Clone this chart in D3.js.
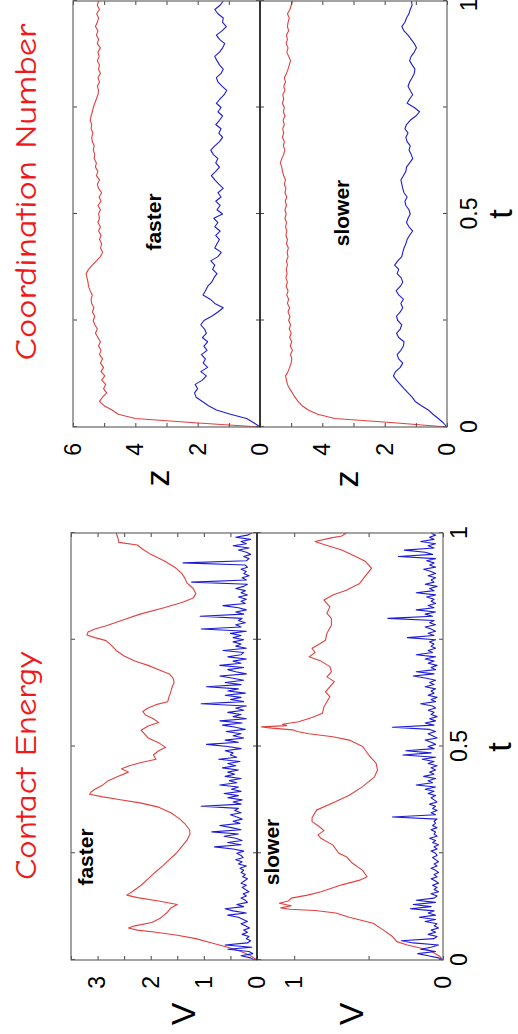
<!DOCTYPE html>
<html>
<head>
<meta charset="utf-8">
<script src="https://cdn.jsdelivr.net/npm/d3@7"></script>
<style>
  body { margin: 0; background: #fff; }
  svg { display: block; }
</style>
</head>
<body>
<svg id="fig"></svg>
<script>
// ---- data (t in [0,1]) ----
// contact energy, faster: red curve as [t, V] pairs
const ceFastRed = [[0,0],[0.01,0.12],[0.02,0.3],[0.03,0.55],[0.04,0.85],[0.05,1.15],[0.058,1.5],[0.065,1.9],[0.07,2.25],[0.075,2.42],[0.08,2.3],[0.088,1.98],[0.098,1.82],[0.11,1.7],[0.122,1.62],[0.13,1.5],[0.138,1.85],[0.146,2.25],[0.152,2.45],[0.16,2.35],[0.175,2.18],[0.19,2.05],[0.205,1.92],[0.22,1.78],[0.235,1.65],[0.25,1.52],[0.265,1.42],[0.28,1.32],[0.295,1.26],[0.305,1.27],[0.318,1.35],[0.33,1.45],[0.345,1.62],[0.358,1.85],[0.368,2.2],[0.376,2.6],[0.382,2.9],[0.388,3.15],[0.394,3.12],[0.4,3.05],[0.41,2.9],[0.42,2.8],[0.43,2.62],[0.44,2.42],[0.448,2.55],[0.455,2.4],[0.462,2.2],[0.47,1.9],[0.48,1.95],[0.49,1.85],[0.498,1.72],[0.508,1.84],[0.52,2.05],[0.53,2.12],[0.538,2.18],[0.548,2.05],[0.556,1.85],[0.565,1.95],[0.574,2.1],[0.582,2.15],[0.59,2.05],[0.598,1.9],[0.605,1.68],[0.615,1.66],[0.625,1.63],[0.638,1.6],[0.65,1.56],[0.66,1.58],[0.67,1.65],[0.68,1.85],[0.69,2.05],[0.7,2.3],[0.712,2.5],[0.725,2.65],[0.738,2.75],[0.748,2.84],[0.755,3.05],[0.761,3.2],[0.768,3.18],[0.775,3.05],[0.782,2.85],[0.795,2.55],[0.81,2.2],[0.825,1.75],[0.838,1.4],[0.848,1.2],[0.858,1.15],[0.87,1.2],[0.883,1.32],[0.895,1.36],[0.906,1.42],[0.92,1.55],[0.935,1.75],[0.95,2.0],[0.962,2.15],[0.972,2.25],[0.978,2.6],[0.99,2.62],[1,2.65]];

// contact energy, faster: blue curve, one value every 0.005 in t
const ceFastBlue = [0.05,0.12,0.30,0.08,0.15,0.55,0.10,0.60,0.18,0.12,
  0.20,0.15,0.28,0.18,0.25,0.14,0.22,0.30,0.18,0.26,
  0.35,0.55,0.20,0.45,0.60,0.25,0.38,0.18,0.22,0.30,
  0.20,0.26,0.15,0.22,0.28,0.20,0.30,0.24,0.18,0.27,
  0.22,0.30,0.25,0.32,0.20,0.35,0.28,0.40,0.26,0.30,
  0.38,0.25,0.45,0.80,0.30,0.55,0.28,0.40,0.62,0.35,
  0.85,0.30,0.48,0.70,0.32,0.45,0.28,0.38,0.50,0.30,
  0.42,0.35,1.05,0.30,0.45,0.28,0.55,0.35,0.62,0.30,
  0.48,0.35,0.70,0.38,0.52,0.30,0.60,0.42,0.55,0.35,
  0.65,0.40,0.55,0.32,0.72,0.38,0.50,0.45,0.60,0.30,
  0.55,0.95,0.35,0.60,0.25,0.45,0.30,0.58,0.22,0.40,
  0.65,0.28,0.70,0.20,0.45,0.30,0.55,0.25,0.40,0.20,
  1.05,0.25,0.50,0.30,0.60,0.22,0.55,0.35,0.95,0.30,
  0.60,0.25,0.45,0.70,0.20,0.40,0.55,0.25,0.70,0.30,
  0.45,0.20,0.55,0.30,0.25,0.64,0.20,0.40,0.30,0.45,
  0.25,0.45,0.30,0.50,0.20,1.05,0.30,0.40,0.22,0.35,
  0.28,1.07,0.25,0.40,0.20,0.35,0.64,0.22,0.30,0.20,
  0.35,0.18,0.30,0.22,0.40,0.25,0.18,1.23,0.20,0.28,
  0.15,0.25,0.20,0.30,0.18,0.22,1.39,0.20,0.15,0.25,
  0.12,0.20,0.35,0.15,0.45,0.20,0.30,0.12,0.40,0.18,
  0.10];

// contact energy, slower: red curve as [t, V] pairs
const ceSlowRed = [[0,0],[0.008,0.02],[0.023,0.09],[0.035,0.24],[0.043,0.31],[0.055,0.34],[0.07,0.4],[0.086,0.47],[0.1,0.63],[0.11,0.72],[0.116,0.86],[0.119,1.03],[0.122,1.09],[0.127,1.02],[0.133,1.1],[0.138,1.04],[0.145,1.02],[0.152,0.91],[0.16,0.82],[0.176,0.68],[0.187,0.56],[0.195,0.51],[0.21,0.54],[0.227,0.61],[0.242,0.65],[0.25,0.7],[0.269,0.74],[0.285,0.82],[0.293,0.84],[0.303,0.8],[0.312,0.83],[0.324,0.88],[0.333,0.88],[0.351,0.85],[0.371,0.72],[0.386,0.63],[0.406,0.54],[0.429,0.46],[0.445,0.44],[0.461,0.45],[0.476,0.49],[0.5,0.54],[0.515,0.63],[0.523,0.74],[0.53,0.9],[0.535,0.98],[0.539,1.01],[0.543,1.15],[0.546,1.22],[0.549,1.05],[0.552,1.08],[0.558,0.97],[0.568,0.88],[0.578,0.81],[0.593,0.8],[0.605,0.78],[0.617,0.76],[0.628,0.79],[0.64,0.76],[0.652,0.73],[0.663,0.78],[0.675,0.75],[0.687,0.76],[0.7,0.82],[0.71,0.9],[0.72,0.86],[0.73,0.88],[0.74,0.83],[0.749,0.79],[0.765,0.78],[0.784,0.75],[0.8,0.75],[0.812,0.78],[0.827,0.76],[0.843,0.8],[0.855,0.74],[0.866,0.65],[0.882,0.56],[0.9,0.52],[0.917,0.48],[0.933,0.52],[0.944,0.58],[0.96,0.68],[0.972,0.79],[0.98,0.86],[0.988,0.76],[0.993,0.68],[1,0.65]];

// contact energy, slower: blue curve, one value every 0.005 in t
const ceSlowBlue = [0.00,0.03,0.10,0.17,0.05,0.15,0.08,0.03,0.20,0.28,
  0.06,0.04,0.10,0.05,0.08,0.03,0.06,0.04,0.12,0.05,
  0.16,0.05,0.10,0.06,0.22,0.08,0.20,0.05,0.18,0.06,
  0.04,0.08,0.03,0.06,0.04,0.07,0.03,0.05,0.08,0.04,
  0.06,0.03,0.05,0.08,0.04,0.06,0.03,0.05,0.07,0.04,
  0.05,0.08,0.04,0.06,0.03,0.07,0.05,0.09,0.04,0.06,
  0.05,0.08,0.04,0.07,0.05,0.06,0.04,0.34,0.05,0.08,
  0.04,0.07,0.05,0.09,0.04,0.06,0.08,0.05,0.10,0.06,
  0.12,0.05,0.18,0.07,0.10,0.05,0.13,0.06,0.09,0.05,
  0.08,0.04,0.10,0.06,0.14,0.05,0.27,0.08,0.25,0.06,
  0.10,0.05,0.08,0.12,0.04,0.07,0.10,0.05,0.09,0.34,
  0.06,0.12,0.05,0.09,0.04,0.08,0.06,0.10,0.05,0.07,
  0.15,0.05,0.08,0.04,0.10,0.06,0.08,0.05,0.12,0.06,
  0.09,0.05,0.11,0.20,0.06,0.18,0.05,0.08,0.04,0.10,
  0.06,0.12,0.05,0.18,0.07,0.10,0.05,0.08,0.06,0.09,
  0.05,0.24,0.06,0.10,0.05,0.08,0.12,0.05,0.09,0.06,
  0.37,0.07,0.12,0.05,0.18,0.06,0.10,0.05,0.08,0.06,
  0.11,0.05,0.18,0.06,0.09,0.04,0.12,0.06,0.08,0.05,
  0.10,0.05,0.08,0.13,0.05,0.09,0.06,0.11,0.05,0.30,
  0.07,0.12,0.26,0.06,0.10,0.05,0.15,0.06,0.09,0.05,
  0.08];

// coordination number, one value every 0.01 in t
const cnFastRed = [0,2.1,4.0,4.55,4.75,5.0,5.15,5.05,4.92,5.02,
  4.95,5.08,4.98,5.1,5.02,5.12,5.05,5.15,5.1,5.18,
  5.12,5.2,5.28,5.22,5.3,5.35,5.3,5.38,5.33,5.4,
  5.42,5.38,5.45,5.5,5.52,5.55,5.58,5.5,5.38,5.25,
  5.12,5.05,5.12,5.08,5.15,5.1,5.18,5.12,5.2,5.15,
  5.18,5.12,5.2,5.1,5.16,5.08,5.18,5.22,5.15,5.25,
  5.2,5.28,5.25,5.32,5.3,5.35,5.32,5.38,5.4,5.36,
  5.42,5.4,5.45,5.42,5.38,5.35,5.3,5.25,5.2,5.18,
  5.22,5.15,5.2,5.12,5.18,5.15,5.22,5.16,5.2,5.12,
  5.22,5.18,5.25,5.2,5.28,5.22,5.18,5.24,5.15,5.22,
  5.18];
const cnFastBlue = [0,0.2,0.43,0.95,1.4,1.65,1.85,2.05,2.1,2.0,
  2.08,1.85,1.72,1.9,1.68,1.82,1.75,1.88,1.7,1.8,
  1.68,1.85,1.72,1.78,1.9,1.8,1.55,1.35,1.18,1.45,
  1.6,1.83,1.75,1.68,1.55,1.48,1.38,1.52,1.45,1.58,
  1.35,1.24,1.45,1.38,1.3,1.42,1.28,1.45,1.35,1.48,
  1.2,1.38,1.28,1.42,1.25,1.35,1.18,1.32,1.45,1.56,
  1.42,1.3,1.42,1.35,1.5,1.58,1.45,1.3,1.2,1.32,
  1.25,1.42,1.3,1.2,1.35,1.25,1.4,1.28,1.15,1.07,
  1.22,1.35,1.4,1.25,1.18,1.3,1.38,1.45,1.3,1.2,
  1.13,1.3,1.4,1.22,1.08,1.2,1.18,1.35,1.45,1.28,
  1.18];
const cnSlowRed = [0,1.7,3.6,4.15,4.45,4.65,4.78,4.88,4.96,5.05,
  5.12,5.15,5.18,5.1,5.05,5.0,4.98,5.02,4.96,5.03,
  4.98,5.05,5.0,5.06,5.02,5.08,5.04,5.1,5.05,5.12,
  5.08,5.14,5.1,5.16,5.12,5.17,5.13,5.16,5.12,5.15,
  5.1,5.13,5.09,5.15,5.12,5.17,5.14,5.18,5.15,5.2,
  5.16,5.2,5.15,5.19,5.14,5.2,5.17,5.22,5.18,5.24,
  5.28,5.3,5.35,5.3,5.24,5.2,5.25,5.22,5.28,5.24,
  5.27,5.22,5.26,5.2,5.25,5.22,5.28,5.24,5.27,5.2,
  5.24,5.18,5.22,5.15,5.1,5.06,5.02,5.08,5.14,5.1,
  5.16,5.12,5.15,5.08,5.12,5.1,5.06,5.12,5.04,5.0,
  4.96];
const cnSlowBlue = [0,0.12,0.28,0.45,0.6,0.82,1.02,1.12,1.25,1.38,
  1.5,1.62,1.72,1.65,1.5,1.42,1.55,1.6,1.48,1.4,
  1.38,1.55,1.62,1.5,1.45,1.58,1.62,1.5,1.42,1.48,
  1.4,1.55,1.63,1.5,1.42,1.47,1.6,1.55,1.68,1.58,
  1.45,1.42,1.38,1.32,1.28,1.2,1.1,1.22,1.3,1.25,
  1.18,1.22,1.32,1.35,1.28,1.38,1.42,1.45,1.48,1.4,
  1.32,1.3,1.2,1.1,1.15,1.22,1.18,1.28,1.32,1.25,
  1.35,1.3,1.18,1.0,0.88,1.05,1.28,1.2,1.1,1.18,
  1.25,1.2,1.12,1.05,1.03,1.12,1.2,1.15,1.05,0.98,
  1.05,1.15,1.25,1.38,1.45,1.35,1.3,1.22,1.18,1.12,
  1.14];

const tTicks = [0, 0.25, 0.5, 0.75, 1];
const tLabels = [0, 0.5, 1];

// ---- layout (drawn unrotated, then the whole figure is turned -90deg) ----
const W = 1034, H = 518;
const RED = "#e3403f", BLUE = "#1c1cd6";
const tickFont = "'Liberation Sans', Arial, Helvetica, sans-serif";

const asPairs = (vals, dt) => vals.map((v, i) => [i * dt, v]);

const panels = [
  { u: [74, 501], v: [71, 257], dom: [0, 3.5], yt: d3.range(0, 3.51, 0.5), yl: [0, 1, 2, 3],
    lines: [[ceFastRed, RED], [asPairs(ceFastBlue, 0.005), BLUE]],
    tag: "faster", tagPos: [177, 86], tlab: false },
  { u: [74, 501], v: [257, 443], dom: [0, 1.25], yt: [0, 0.5, 1], yl: [0, 1],
    lines: [[ceSlowRed, RED], [asPairs(ceSlowBlue, 0.005), BLUE]],
    tag: "slower", tagPos: [182, 272], tlab: true, tPad: 8 },
  { u: [607, 1033], v: [73, 260], dom: [0, 6], yt: d3.range(0, 7), yl: [0, 2, 4, 6],
    lines: [[asPairs(cnFastRed, 0.01), RED], [asPairs(cnFastBlue, 0.01), BLUE]],
    tag: "faster", tagPos: [812, 154], tlab: false },
  { u: [607, 1033], v: [260, 447], dom: [0, 6], yt: d3.range(0, 7), yl: [0, 2, 4],
    lines: [[asPairs(cnSlowRed, 0.01), RED], [asPairs(cnSlowBlue, 0.01), BLUE]],
    tag: "slower", tagPos: [821, 342], tlab: true, tPad: 14, lastEnd: true }
];

const svg = d3.select("#fig").attr("width", H).attr("height", W);
const fig = svg.append("g").attr("transform", `translate(0,${W}) rotate(-90)`);

panels.forEach(p => {
  const x = d3.scaleLinear().domain([0, 1]).range(p.u);
  const y = d3.scaleLinear().domain(p.dom).range([p.v[1], p.v[0]]);
  const g = fig.append("g");

  const line = d3.line().x(d => x(d[0])).y(d => y(d[1]));
  p.lines.forEach(([data, col]) => {
    g.append("path").datum(data)
      .attr("d", line)
      .attr("fill", "none")
      .attr("stroke", col)
      .attr("stroke-width", 1.1)
      .attr("stroke-linejoin", "round");
  });

  const fmtT = d => tLabels.includes(d) ? String(d) : "";
  const fmtY = d => p.yl.includes(d) ? String(d) : "";

  const bottom = g.append("g").attr("transform", `translate(0,${p.v[1]})`)
    .call(d3.axisBottom(x).tickValues(tTicks).tickSize(-4).tickPadding(p.tPad || 8)
      .tickFormat(p.tlab ? fmtT : () => ""));
  // the last t label sits on the page edge: keep it inside
  if (p.lastEnd) bottom.selectAll(".tick text").filter(d => d === 1).attr("text-anchor", "end").attr("dx", 2);

  g.append("g").attr("transform", `translate(0,${p.v[0]})`)
    .call(d3.axisTop(x).tickValues(tTicks).tickSize(-4).tickFormat(() => ""));
  g.append("g").attr("transform", `translate(${p.u[0]},0)`)
    .call(d3.axisLeft(y).tickValues(p.yt).tickSize(-4).tickPadding(16).tickFormat(fmtY));
  g.append("g").attr("transform", `translate(${p.u[1]},0)`)
    .call(d3.axisRight(y).tickValues(p.yt).tickSize(-4).tickFormat(() => ""));

  g.selectAll(".domain").remove();
  g.selectAll(".tick line").attr("stroke", "#444");
  g.selectAll(".tick text")
    .attr("font-family", tickFont).attr("font-size", 23).attr("fill", "#000");

  g.append("rect")
    .attr("x", p.u[0]).attr("y", p.v[0])
    .attr("width", p.u[1] - p.u[0]).attr("height", p.v[1] - p.v[0])
    .attr("fill", "none").attr("stroke", "#666").attr("stroke-width", 1.2);

  g.append("text")
    .attr("x", p.tagPos[0]).attr("y", p.tagPos[1]).attr("dy", "0.35em")
    .attr("text-anchor", "middle")
    .attr("font-family", tickFont).attr("font-weight", "bold").attr("font-size", 21)
    .text(p.tag);
});

// dividers between the faster and slower panels
fig.selectAll(".divider").data([[74, 501, 257], [607, 1033, 260]]).enter()
  .append("line")
  .attr("x1", d => d[0]).attr("x2", d => d[1])
  .attr("y1", d => d[2]).attr("y2", d => d[2])
  .attr("stroke", "#111").attr("stroke-width", 1.3);

// axis names
const axisNames = [["V", 20, 183], ["V", 20, 351], ["z", 556, 157], ["z", 555, 346], ["t", 287, 499], ["t", 820, 500]];
fig.selectAll(".axname").data(axisNames).enter()
  .append("text")
  .attr("x", d => d[1]).attr("y", d => d[2]).attr("dy", "0.35em")
  .attr("text-anchor", "middle")
  .attr("font-family", tickFont).attr("font-size", 34)
  .text(d => d[0]);

// column titles
const titles = [["Contact Energy", 268, 228], ["Coordination Number", 842, 337]];
fig.selectAll(".title").data(titles).enter()
  .append("text")
  .attr("x", d => d[1]).attr("y", 25).attr("dy", "0.36em")
  .attr("text-anchor", "middle")
  .attr("textLength", d => d[2]).attr("lengthAdjust", "spacingAndGlyphs")
  .attr("font-family", "'Comic Sans MS', 'Comic Neue', 'DejaVu Sans', sans-serif")
  .attr("font-size", 30).attr("fill", "#f01818")
  .text(d => d[0]);
</script>
</body>
</html>
